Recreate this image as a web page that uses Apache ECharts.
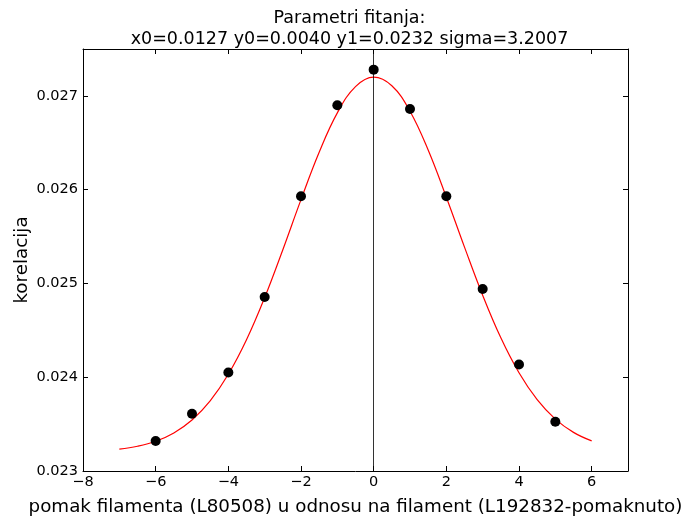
<!DOCTYPE html>
<html><head><meta charset="utf-8">
<script src="https://cdn.jsdelivr.net/npm/echarts@6/dist/echarts.min.js"></script>
<style>html,body{margin:0;padding:0;background:#fff}#c{width:699px;height:516px}</style>
</head><body><div id="c"></div>
<script>
const titleLines = ['Parametri fitanja:', 'x0=0.0127 y0=0.0040 y1=0.0232 sigma=3.2007'];
const xLabel = 'pomak filamenta (L80508) u odnosu na filament (L192832-pomaknuto)';
const yLabel = 'korelacija';
const pointX = [-6, -5, -4, -3, -2, -1, 0, 1, 2, 3, 4, 5];
const pointY = [0.02332, 0.02361, 0.02405, 0.024855, 0.02593, 0.0269, 0.02728, 0.02686, 0.02593, 0.02494, 0.024135, 0.023525];
const fitX = [-7, -6.5, -6, -5.5, -5, -4.5, -4, -3.5, -3, -2.5, -2, -1.5, -1, -0.5, 0, 0.5, 1, 1.5, 2, 2.5, 3, 3.5, 4, 4.5, 5, 5.5, 6];
const fitY = [0.023233, 0.023264, 0.023317, 0.023406, 0.023544, 0.023748, 0.024031, 0.024399, 0.024849, 0.02536, 0.025894, 0.026399, 0.026819, 0.027099, 0.0272, 0.027108, 0.026837, 0.026423, 0.02592, 0.025387, 0.024874, 0.02442, 0.024047, 0.02376, 0.023553, 0.023412, 0.023321];
const xTicks = [-8, -6, -4, -2, 0, 2, 4, 6];
const yTicks = [0.023, 0.024, 0.025, 0.026, 0.027];

const font = 'DejaVu Sans';
const chart = echarts.init(document.getElementById('c'), null, {renderer: 'canvas'});
const axLine = {show: true, onZero: false, lineStyle: {color: '#000', width: 1}};
const tick = {show: true, inside: true, length: 5, lineStyle: {color: '#000', width: 1}};
chart.setOption({
  animation: false,
  backgroundColor: '#fff',
  title: {
    text: titleLines.join('\n'),
    left: 'center', top: 3,
    textStyle: {fontFamily: font, fontSize: 17.5, fontWeight: 'normal', color: '#000', lineHeight: 21}
  },
  grid: {left: 83, right: 71, top: 49, bottom: 45, containLabel: false, outerBoundsMode: 'none'},
  xAxis: [{
    type: 'value', min: -8, max: 7, interval: 2,
    axisLine: axLine, axisTick: tick, splitLine: {show: false},
    axisLabel: {fontFamily: font, fontSize: 14.5, color: '#000', margin: 4,
      formatter: v => xTicks.includes(v) ? String(v).replace('-', '\u2212') : ''},
    name: xLabel, nameLocation: 'middle', nameGap: 27, nameMoveOverlap: false,
    nameTextStyle: {fontFamily: font, fontSize: 18.3, color: '#000'}
  }, {
    type: 'value', position: 'top', min: -8, max: 7, interval: 2,
    axisLine: axLine, axisTick: tick, axisLabel: {show: false}, splitLine: {show: false}
  }],
  yAxis: [{
    type: 'value', min: 0.023, max: 0.0275, interval: 0.001,
    axisLine: axLine, axisTick: tick, splitLine: {show: false},
    axisLabel: {fontFamily: font, fontSize: 14.5, color: '#000', margin: 5,
      formatter: v => yTicks.some(t => Math.abs(t - v) < 1e-9) ? v.toFixed(3) : ''},
    name: yLabel, nameLocation: 'middle', nameGap: 52, nameMoveOverlap: false,
    nameTextStyle: {fontFamily: font, fontSize: 18.3, color: '#000'}
  }, {
    type: 'value', position: 'right', min: 0.023, max: 0.0275, interval: 0.001,
    axisLine: axLine, axisTick: tick, axisLabel: {show: false}, splitLine: {show: false}
  }],
  series: [{
    type: 'line', xAxisIndex: 0, yAxisIndex: 0,
    data: fitX.map((x, i) => [x, fitY[i]]),
    smooth: 0.4, showSymbol: false, symbol: 'none',
    lineStyle: {color: '#ff0000', width: 1.2},
    markLine: {
      silent: true, symbol: 'none', label: {show: false},
      lineStyle: {color: '#000', width: 1, type: 'solid', opacity: 0.8},
      data: [{xAxis: 0}]
    },
    z: 2
  }, {
    type: 'scatter', xAxisIndex: 0, yAxisIndex: 0,
    data: pointX.map((x, i) => [x, pointY[i]]),
    symbol: 'circle', symbolSize: 10,
    itemStyle: {color: '#000', opacity: 1},
    z: 3
  }]
});
</script></body></html>
